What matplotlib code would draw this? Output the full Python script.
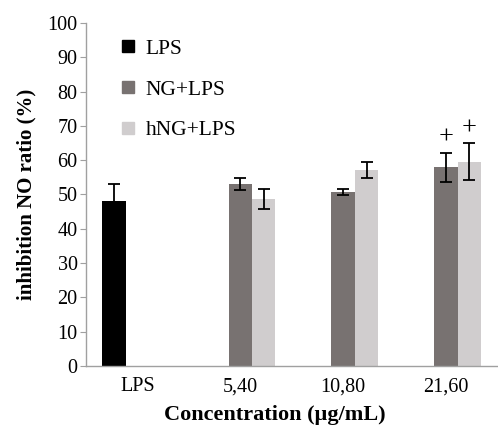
import matplotlib
matplotlib.use("Agg")
import matplotlib.pyplot as plt
import numpy as np

plt.rcParams["font.family"] = ["Liberation Serif", "DejaVu Serif"]

categories = ["LPS", "5,40", "10,80", "21,60"]
series = ["LPS", "NG+LPS", "hNG+LPS"]
colors = ["#000000", "#787271", "#d0cdce"]

# values per series, one per category (nan = no bar)
lps_vals = [48.1, np.nan, np.nan, np.nan]
lps_err = [5.0, 0, 0, 0]
ng_vals = [np.nan, 53.0, 50.7, 57.9]
ng_err = [0, 1.7, 0.9, 4.2]
hng_vals = [np.nan, 48.7, 57.2, 59.6]
hng_err = [0, 3.0, 2.4, 5.3]

# significance marks above (series index, category index)
marks = [(1, 3), (2, 3)]

values = [lps_vals, ng_vals, hng_vals]
errors = [lps_err, ng_err, hng_err]

fig = plt.figure(figsize=(4.98, 4.29), dpi=100)
ax = fig.add_axes([0.1727, 0.1469, 0.826, 0.7995])

x = np.arange(len(categories))
w = 0.228
offsets = [-w, 0, w]

for i, name in enumerate(series):
    v = np.array(values[i], dtype=float)
    e = np.array(errors[i], dtype=float)
    ax.bar(x + offsets[i], v, width=w, color=colors[i], label=name)
    mask = ~np.isnan(v)
    ax.errorbar(x[mask] + offsets[i], v[mask], yerr=e[mask], fmt="none",
                ecolor="black", elinewidth=1.3, capsize=4.5, capthick=1.3)

for s, c in marks:
    top = values[s][c] + errors[s][c]
    ax.text(x[c] + offsets[s], top + 4.4, "+", ha="center", va="center",
            fontsize=19)

ax.set_xlim(-0.5, len(categories) - 0.5)
ax.set_ylim(0, 100)
ax.set_yticks(np.arange(0, 101, 10))
ax.set_xticks(x)
ax.set_xticklabels(categories)
ax.tick_params(axis="y", labelsize=14.5, length=4, color="#a0a0a0", pad=2)
ax.tick_params(axis="x", labelsize=14.5, length=0, pad=8)

for side in ["top", "right"]:
    ax.spines[side].set_visible(False)
for side in ["left", "bottom"]:
    ax.spines[side].set_color("#a0a0a0")
    ax.spines[side].set_linewidth(1.0)

ax.set_ylabel("inhibition NO ratio (%)", fontsize=15, fontweight="bold",
              labelpad=8)
ax.set_xlabel("Concentration (µg/mL)", fontsize=16, fontweight="bold")
ax.xaxis.set_label_coords(0.46, -0.115)

handles = [plt.Line2D([], [], marker="s", linestyle="none", markersize=8,
                      color=c) for c in colors]
ax.legend(handles, series, loc="upper left", bbox_to_anchor=(0.03, 1.01),
          frameon=False, fontsize=15.5, handletextpad=0.3, labelspacing=0.95,
          handlelength=1.0)

fig.savefig("out.png", dpi=100)
